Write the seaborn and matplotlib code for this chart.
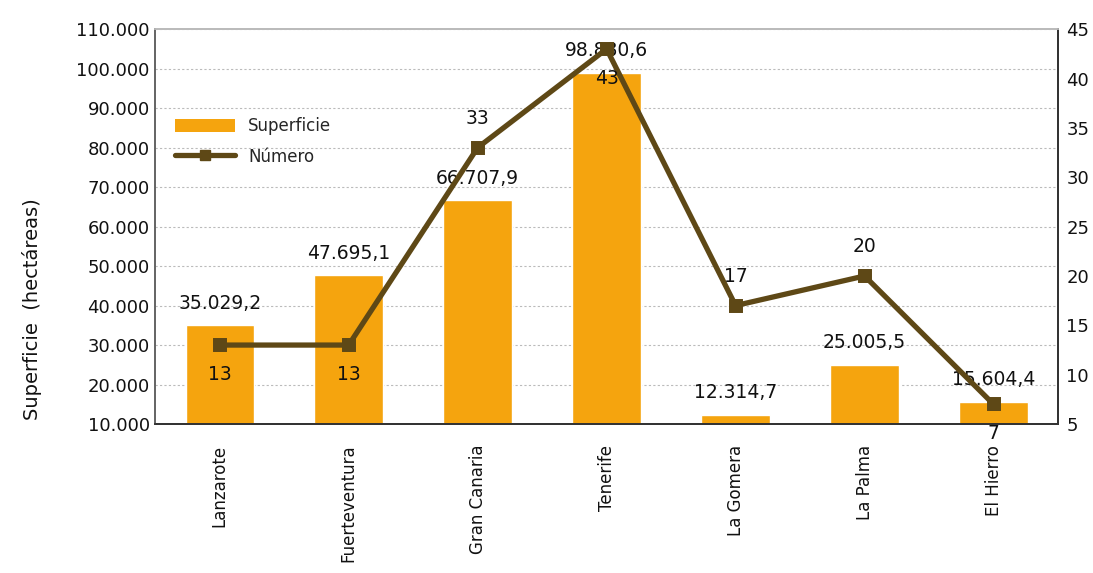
import matplotlib
matplotlib.use("Agg")
import matplotlib.pyplot as plt
from matplotlib.ticker import FuncFormatter, MultipleLocator
from matplotlib.lines import Line2D
from matplotlib.patches import Patch
import pandas as pd
import seaborn as sns

islas = ["Lanzarote", "Fuerteventura", "Gran Canaria", "Tenerife", "La Gomera", "La Palma", "El Hierro"]
superficie = [35029.2, 47695.1, 66707.9, 98880.6, 12314.7, 25005.5, 15604.4]
numero = [13, 13, 33, 43, 17, 20, 7]
# where the line labels sit relative to the marker
num_label_below = [True, True, False, True, False, False, True]

BAR = "#F5A40E"
LINE = "#5E4816"


def miles(v, _=None):
    return f"{v:,.0f}".replace(",", ".")


def decimal_es(v):
    return f"{v:,.1f}".replace(",", "X").replace(".", ",").replace("X", ".")


sns.set_theme(style="white")
plt.rcParams["font.family"] = ["DejaVu Sans"]

df = pd.DataFrame({"isla": islas, "superficie": superficie, "numero": numero})

fig, ax = plt.subplots(figsize=(10.93, 5.73), dpi=100)
fig.subplots_adjust(left=0.142, right=0.968, top=0.949, bottom=0.26)

sns.barplot(data=df, x="isla", y="superficie", color=BAR, saturation=1, width=0.53, ax=ax, zorder=2)
ax.set_ylim(10000, 110000)
ax.yaxis.set_major_locator(MultipleLocator(10000))
ax.yaxis.set_major_formatter(FuncFormatter(miles))
ax.grid(axis="y", color="#BBBBBB", linestyle=(0, (2, 2)), linewidth=0.8, zorder=0)
ax.set_axisbelow(True)
ax.set_xlabel("")
ax.set_ylabel("Superficie  (hectáreas)", fontsize=14, color="#111111")
ax.yaxis.set_label_coords(-0.125, 0.29)
ax.tick_params(axis="y", labelsize=13, colors="#111111", length=0, pad=4)
ax.tick_params(axis="x", labelsize=12, colors="#111111", labelrotation=90, length=0, pad=15)
for lbl in ax.get_xticklabels():
    lbl.set_va("top")

for i, v in enumerate(superficie):
    ax.text(i, v + 3200, decimal_es(v), ha="center", va="bottom", fontsize=13.5, color="#111111", zorder=5)

ax2 = ax.twinx()
sns.pointplot(data=df, x="isla", y="numero", color=LINE, markers="s", markersize=7,
              linewidth=3.8, ax=ax2, zorder=4)
ax2.set_ylim(5, 45)
ax2.yaxis.set_major_locator(MultipleLocator(5))
ax2.set_ylabel("")
ax2.tick_params(axis="y", labelsize=13, colors="#111111", length=0, pad=6)
for i, (n, below) in enumerate(zip(numero, num_label_below)):
    if below:
        ax2.text(i, n - 2.0, str(n), ha="center", va="top", fontsize=13.5, color="#111111", zorder=6)
    else:
        ax2.text(i, n + 2.0, str(n), ha="center", va="bottom", fontsize=13.5, color="#111111", zorder=6)

for a in (ax, ax2):
    a.spines["top"].set_color("#BBBBBB")
    a.spines["left"].set_color("#666666")
    a.spines["right"].set_color("#333333")
    a.spines["bottom"].set_color("#333333")
    for s in a.spines.values():
        s.set_linewidth(1.3)

handles = [
    Patch(facecolor=BAR, edgecolor="none"),
    Line2D([0], [0], color=LINE, linewidth=3.8, marker="s", markersize=7),
]
ax2.legend(handles, ["Superficie", "Número"], loc="upper left", bbox_to_anchor=(0.005, 0.815),
           frameon=False, fontsize=12, handlelength=3.6, handleheight=0.9, labelspacing=0.75)

fig.savefig("out.png", dpi=100)
